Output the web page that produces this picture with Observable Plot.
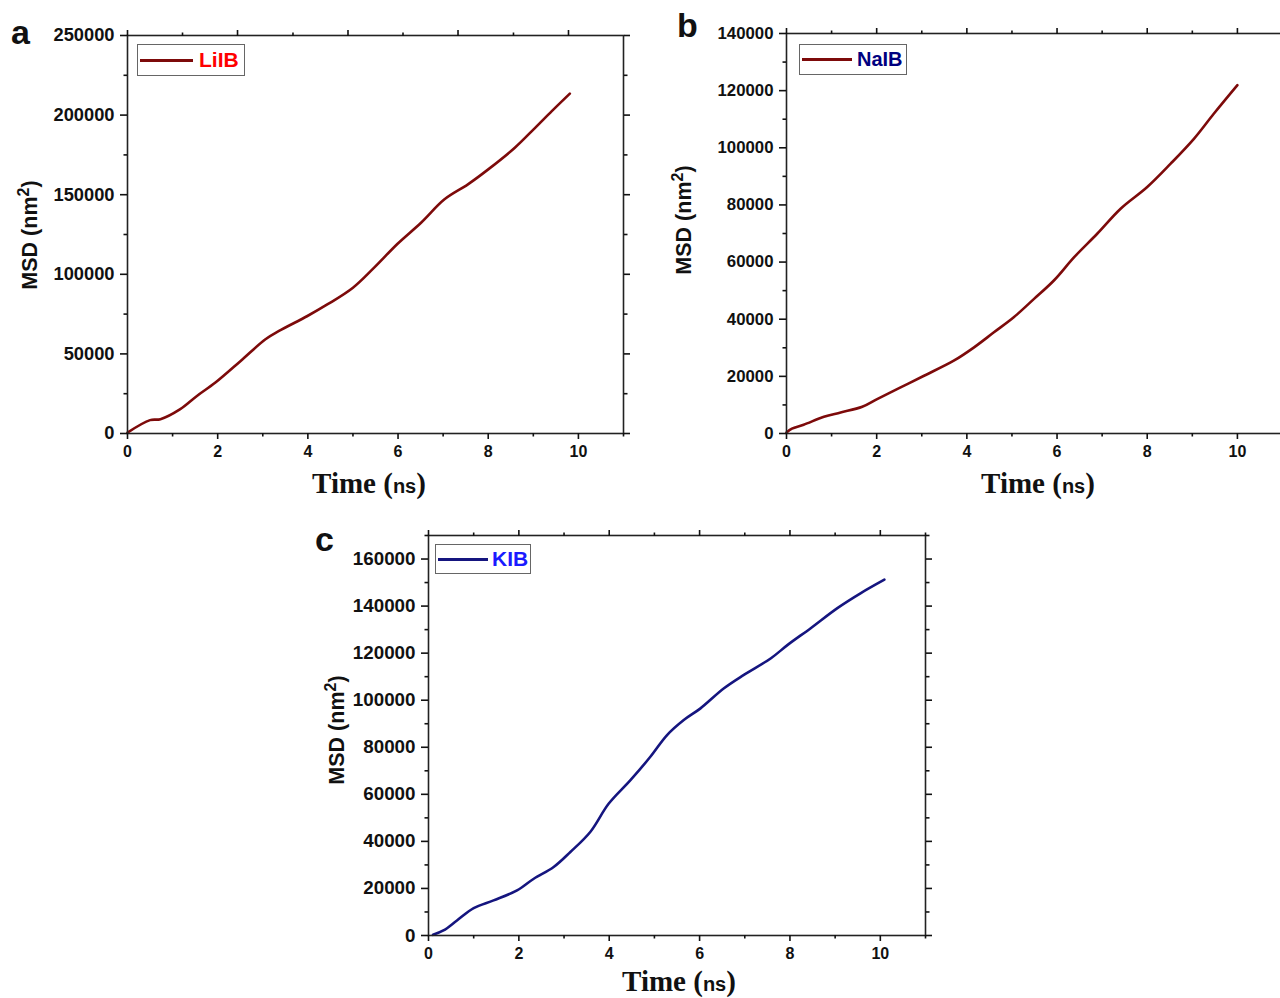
<!DOCTYPE html>
<html><head><meta charset="utf-8">
<script src="https://cdn.jsdelivr.net/npm/d3@7"></script>
<script src="https://cdn.jsdelivr.net/npm/@observablehq/plot@0.6"></script>
<style>
html,body{margin:0;padding:0;background:#fff;overflow:hidden;width:1280px;height:998px;}
#root{position:relative;width:1280px;height:998px;overflow:hidden;background:#fff;}
.plt{position:absolute;}
.panel{position:absolute;font:bold 34px "Liberation Sans",Arial,sans-serif;color:#111;line-height:1;}
.ytitle{position:absolute;font:bold 21.5px "Liberation Sans",Arial,sans-serif;color:#111;white-space:nowrap;transform:translate(-50%,-50%) rotate(-90deg);line-height:1;}
.ytitle sup{font-size:16px;vertical-align:8px;line-height:0;}
.xtitle{position:absolute;white-space:nowrap;transform:translate(-50%,-50%);color:#111;line-height:1;}
.xtitle .t{font:bold 29px "Liberation Serif","Times New Roman",serif;}
.xtitle .ns{font:bold 20px "Liberation Sans",Arial,sans-serif;}
.legend{position:absolute;border:1.5px solid #666;background:#fff;box-sizing:border-box;}
.legend .sw{position:absolute;height:3px;}
.legend .lt{position:absolute;font:bold 21px "Liberation Sans",Arial,sans-serif;line-height:1;}
</style>
</head><body><div id="root"></div>
<script>
// ---------- DATA ----------
// Panel a: LiIB
const timeLi = [0, 0.5, 0.73, 1.17, 1.54, 1.95, 2.51, 3.06, 3.36, 3.99, 4.44, 5.0, 5.47, 5.99, 6.51, 7.03, 7.55, 8.0, 8.59, 9.04, 9.41, 9.81];
const msdLi  = [600, 8400, 9000, 15300, 23600, 32000, 45600, 59200, 64400, 73800, 81200, 91600, 104200, 119200, 132400, 147100, 156500, 165900, 179500, 192000, 202500, 213500];
// Panel b: NaIB
const timeNa = [0, 0.12, 0.38, 0.83, 1.2, 1.68, 2.01, 2.53, 3.05, 3.71, 4.16, 4.6, 5.04, 5.49, 5.93, 6.38, 6.89, 7.41, 8.0, 8.52, 9.04, 9.48, 10.0];
const msdNa  = [350, 1700, 3040, 5850, 7360, 9350, 12040, 16130, 20220, 25480, 30160, 35420, 40680, 47110, 53540, 61720, 69910, 78670, 86270, 94450, 103220, 111990, 121930];
// Panel c: KIB
const timeK = [0.1, 0.33, 0.63, 1.0, 1.44, 1.96, 2.33, 2.77, 3.14, 3.58, 3.99, 4.47, 4.91, 5.28, 5.65, 6.02, 6.54, 6.98, 7.58, 7.95, 8.46, 9.05, 9.57, 10.09];
const msdK  = [280, 2130, 6390, 11640, 14910, 19170, 24130, 29100, 35490, 44010, 56080, 66020, 75950, 85180, 91570, 96540, 105060, 110740, 117840, 123510, 130610, 139130, 145520, 151200];

// tick values
const xMajorTicks = [0, 2, 4, 6, 8, 10];
const xMinorTicks = [1, 3, 5, 7, 9, 11];
const topMajorTicksA = [0, 2.44, 4.89, 7.33, 9.78];
const topMinorTicksA = [1.22, 3.67, 6.11, 8.56];
const yMajorA = [0, 50000, 100000, 150000, 200000, 250000];
const yMinorA = [25000, 75000, 125000, 175000, 225000];
const yMajorB = [0, 20000, 40000, 60000, 80000, 100000, 120000, 140000];
const yMinorB = [10000, 30000, 50000, 70000, 90000, 110000, 130000];
const yMajorC = [0, 20000, 40000, 60000, 80000, 100000, 120000, 140000, 160000];
const yMinorC = [10000, 30000, 50000, 70000, 90000, 110000, 130000, 150000, 170000];

const seriesNames = ["LiIB", "NaIB", "KIB"];
const panelLetters = ["a", "b", "c"];

// ---------- DRAW ----------
const root = document.getElementById("root");
const toRows = (ts, ms) => ts.map((t, i) => ({t, msd: ms[i]}));
const blank = () => "";

function makePanel(cfg) {
  const {L, R, T, B, yMax, yMajor, yMinor, topMajor, topMinor, rows, stroke, yFont, xFont} = cfg;
  const ml = 100, mr = 20, mt = 20, mb = 40;
  const w = ml + (R - L) + mr, h = mt + (B - T) + mb;
  const sw = 1.6;
  const svg = Plot.plot({
    width: w, height: h,
    marginLeft: ml, marginRight: mr, marginTop: mt, marginBottom: mb,
    x: {domain: [0, 11]},
    y: {domain: [0, yMax]},
    style: {fontFamily: '"Liberation Sans", Arial, sans-serif', fontWeight: "bold", color: "#111", background: "transparent", overflow: "visible"},
    marks: [
      Plot.line(rows, {x: "t", y: "msd", stroke, strokeWidth: 2.6, curve: "catmull-rom"}),
      Plot.frame({stroke: "#222", strokeWidth: sw}),
      Plot.axisX({ticks: xMajorTicks, anchor: "bottom", tickSize: 6, tickPadding: 6, tickFormat: "d", fontSize: xFont, label: null, strokeWidth: sw}),
      Plot.axisX({ticks: xMinorTicks, anchor: "bottom", tickSize: 3.5, tickFormat: blank, label: null, strokeWidth: sw}),
      Plot.axisX({ticks: topMajor, anchor: "top", tickSize: 6, tickFormat: blank, label: null, strokeWidth: sw}),
      Plot.axisX({ticks: topMinor, anchor: "top", tickSize: 3.5, tickFormat: blank, label: null, strokeWidth: sw}),
      Plot.axisY({ticks: yMajor, anchor: "left", tickSize: 7, tickPadding: 6, tickFormat: "d", fontSize: yFont, label: null, strokeWidth: sw}),
      Plot.axisY({ticks: yMinor, anchor: "left", tickSize: 3.5, tickFormat: blank, label: null, strokeWidth: sw}),
      Plot.axisY({ticks: yMajor, anchor: "right", tickSize: 6, tickFormat: blank, label: null, strokeWidth: sw}),
      Plot.axisY({ticks: yMinor, anchor: "right", tickSize: 3.5, tickFormat: blank, label: null, strokeWidth: sw})
    ]
  });
  svg.classList.add("plt");
  svg.style.left = (L - ml) + "px";
  svg.style.top = (T - mt) + "px";
  root.appendChild(svg);
}

function addHTML(html) { root.insertAdjacentHTML("beforeend", html); }

function addDecor(d) {
  addHTML(`<div class="panel" style="left:${d.px}px;top:${d.py}px">${d.letter}</div>`);
  addHTML(`<div class="ytitle" style="left:${d.yx}px;top:${d.yy}px">MSD (nm<sup>2</sup>)</div>`);
  addHTML(`<div class="xtitle" style="left:${d.xx}px;top:${d.xy}px"><span class="t">Time (</span><span class="ns">ns</span><span class="t">)</span></div>`);
  addHTML(`<div class="legend" style="left:${d.lx}px;top:${d.ly}px;width:${d.lw}px;height:${d.lh}px">
     <div class="sw" style="left:2px;top:${d.lh/2-2.5}px;width:${d.swl}px;background:${d.lineColor}"></div>
     <div class="lt" style="left:${d.tl}px;top:${d.lh/2-12}px;color:${d.textColor};font-size:${d.tfs}px">${d.name}</div></div>`);
}

makePanel({L: 127, R: 623, T: 35, B: 433, yMax: 250000, yMajor: yMajorA, yMinor: yMinorA,
  topMajor: topMajorTicksA, topMinor: topMinorTicksA, rows: toRows(timeLi, msdLi), stroke: "#7d0a0a", yFont: 18.3, xFont: 16});
makePanel({L: 786, R: 1282, T: 33, B: 433, yMax: 140000, yMajor: yMajorB, yMinor: yMinorB,
  topMajor: xMajorTicks, topMinor: xMinorTicks, rows: toRows(timeNa, msdNa), stroke: "#7d0a0a", yFont: 16.8, xFont: 16});
makePanel({L: 428, R: 925, T: 535, B: 935, yMax: 170000, yMajor: yMajorC, yMinor: yMinorC,
  topMajor: xMajorTicks, topMinor: xMinorTicks, rows: toRows(timeK, msdK), stroke: "#15157f", yFont: 18.8, xFont: 16});

addDecor({letter: panelLetters[0], px: 11, py: 15, yx: 31, yy: 235, xx: 369, xy: 483,
  lx: 137, ly: 44, lw: 108, lh: 32, swl: 53, tl: 61, name: seriesNames[0], lineColor: "#7d0a0a", textColor: "#ff0000", tfs: 21});
addDecor({letter: panelLetters[1], px: 677, py: 8, yx: 685, yy: 220, xx: 1038, xy: 483,
  lx: 799, ly: 44, lw: 108, lh: 31, swl: 50, tl: 57, name: seriesNames[1], lineColor: "#7d0a0a", textColor: "#000080", tfs: 20});
addDecor({letter: panelLetters[2], px: 315, py: 522, yx: 338, yy: 730, xx: 679, xy: 981,
  lx: 435, ly: 544, lw: 96, lh: 30, swl: 50, tl: 56, name: seriesNames[2], lineColor: "#15157f", textColor: "#1a1aff", tfs: 21});
</script>
</body></html>
